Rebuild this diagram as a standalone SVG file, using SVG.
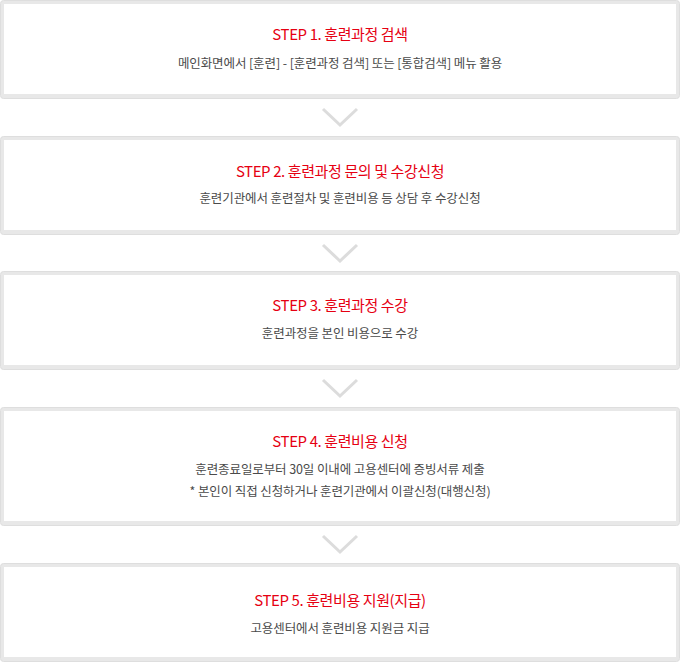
<svg xmlns="http://www.w3.org/2000/svg" width="680" height="662" viewBox="0 0 680 662">
<style>
.frame{fill:#e8e8e8;stroke:#dedede;stroke-width:1}
.inner{fill:#ffffff}
.title{font-family:"Noto Sans CJK KR","Noto Sans",sans-serif;font-size:15px;fill:#e60012;text-anchor:middle;letter-spacing:-0.4px}
.sub{font-family:"Noto Sans CJK KR","Noto Sans",sans-serif;font-size:12.5px;fill:#4a4a4a;text-anchor:middle;letter-spacing:-0.1px}
.chev{fill:none;stroke:#dcdcdc;stroke-width:3}
</style>
<rect width="680" height="662" fill="#fff"/>
<g id="step1">
<rect class="frame" x="0.5" y="0.5" width="679" height="98" rx="3"/>
<rect class="inner" x="4" y="4" width="672" height="90"/>
<text class="title" x="340" y="40">STEP 1. 훈련과정 검색</text>
<text class="sub" x="340" y="68">메인화면에서 [훈련] - [훈련과정 검색] 또는 [통합검색] 메뉴 활용</text>
</g>
<g id="step2">
<rect class="frame" x="0.5" y="136.5" width="679" height="98" rx="3"/>
<rect class="inner" x="4" y="140" width="672" height="90"/>
<text class="title" x="340" y="177">STEP 2. 훈련과정 문의 및 수강신청</text>
<text class="sub" x="340" y="203">훈련기관에서 훈련절차 및 훈련비용 등 상담 후 수강신청</text>
</g>
<g id="step3">
<rect class="frame" x="0.5" y="271.5" width="679" height="98" rx="3"/>
<rect class="inner" x="4" y="275" width="672" height="90"/>
<text class="title" x="340" y="311">STEP 3. 훈련과정 수강</text>
<text class="sub" x="340" y="338">훈련과정을 본인 비용으로 수강</text>
</g>
<g id="step4">
<rect class="frame" x="0.5" y="407.5" width="679" height="118" rx="3"/>
<rect class="inner" x="4" y="411" width="672" height="110"/>
<text class="title" x="340" y="447">STEP 4. 훈련비용 신청</text>
<text class="sub" x="340" y="474">훈련종료일로부터 30일 이내에 고용센터에 증빙서류 제출</text>
<text class="sub" x="340" y="496">* 본인이 직접 신청하거나 훈련기관에서 이괄신청(대행신청)</text>
</g>
<g id="step5">
<rect class="frame" x="0.5" y="563.5" width="679" height="98" rx="3"/>
<rect class="inner" x="4" y="567" width="672" height="90"/>
<text class="title" x="340" y="606">STEP 5. 훈련비용 지원(지급)</text>
<text class="sub" x="340" y="633">고용센터에서 훈련비용 지원금 지급</text>
</g>
<g id="connectors">
<path class="chev" d="M323 109 L340 125 L357 109"/>
<path class="chev" d="M323 245 L340 261 L357 245"/>
<path class="chev" d="M323 380 L340 396 L357 380"/>
<path class="chev" d="M323 536 L340 552 L357 536"/>
</g>
</svg>
